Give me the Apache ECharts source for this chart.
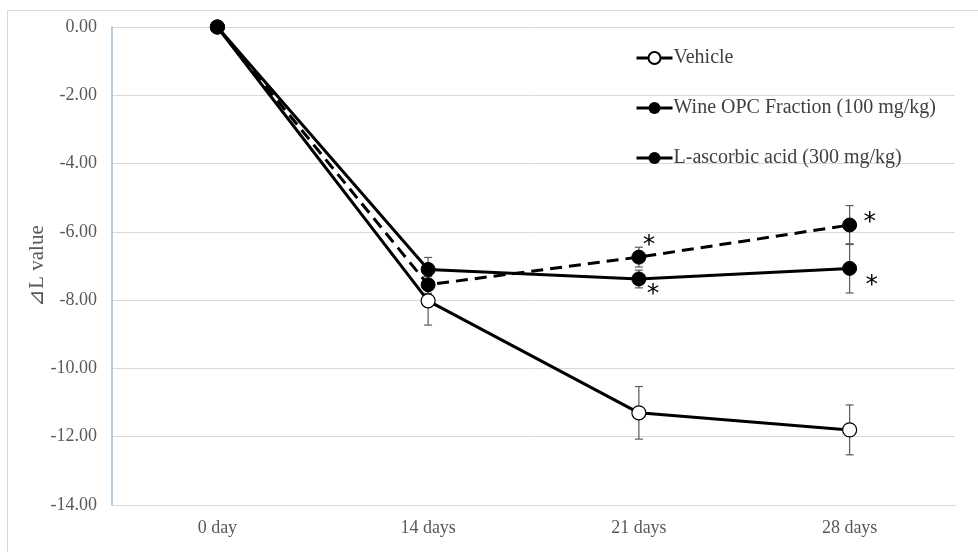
<!DOCTYPE html>
<html>
<head>
<meta charset="utf-8">
<script src="https://cdn.jsdelivr.net/npm/echarts@6/dist/echarts.min.js"></script>
<style>
  html, body { margin: 0; padding: 0; background: #fff; }
  #chart { width: 978px; height: 552px; }
</style>
</head>
<body>
<div id="chart"></div>
<script>
// Time points of the study
const categories = ['0 day', '14 days', '21 days', '28 days'];

// Mean change in L value per group
const vehicle = [0, -8.02, -11.3, -11.8];
const wineOpc = [0, -7.1, -7.38, -7.07];
const ascorbic = [0, -7.55, -6.74, -5.8];

// Error (± half-range) per group
const vehicleErr = [0, 0.71, 0.77, 0.73];
const wineOpcErr = [0, 0.35, 0.26, 0.72];
const ascorbicErr = [0, 0.25, 0.29, 0.57];

// Significance marks
const wineOpcSig = ['', '', '*', '*'];
const ascorbicSig = ['', '', '*', '*'];

// Y axis tick settings
const yMin = -14;
const yMax = 0;
const yStep = 2;

const serifFont = '"Liberation Serif", "Times New Roman", serif';

// Attach asterisk labels to points that carry a significance mark
function withMarks(values, marks, offsets) {
  return values.map((v, i) => {
    if (!marks[i]) return v;
    return {
      value: v,
      label: {
        show: true,
        position: 'inside',
        formatter: marks[i],
        offset: offsets[i],
        fontFamily: '"DejaVu Sans", sans-serif',
        fontSize: 25,
        color: '#000'
      }
    };
  });
}

// Error bar layer for one group
function errorBars(values, errs) {
  return {
    type: 'custom',
    z: 1,
    silent: true,
    data: values.map((v, i) => [i, v, errs[i]]),
    encode: { x: 0, y: 1 },
    renderItem: function (params, api) {
      const idx = api.value(0);
      const m = api.value(1);
      const e = api.value(2);
      if (!e) return null;
      const top = api.coord([idx, m + e]);
      const bot = api.coord([idx, m - e]);
      const cap = 4;
      const style = { stroke: '#595959', lineWidth: 1.2 };
      return {
        type: 'group',
        children: [
          { type: 'line', shape: { x1: top[0], y1: top[1], x2: bot[0], y2: bot[1] }, style: style },
          { type: 'line', shape: { x1: top[0] - cap, y1: top[1], x2: top[0] + cap, y2: top[1] }, style: style },
          { type: 'line', shape: { x1: bot[0] - cap, y1: bot[1], x2: bot[0] + cap, y2: bot[1] }, style: style }
        ]
      };
    }
  };
}

const chart = echarts.init(document.getElementById('chart'), null, { renderer: 'canvas' });

chart.setOption({
  backgroundColor: '#fff',
  animation: false,
  graphic: [{
    type: 'rect',
    silent: true,
    shape: { x: 7.5, y: 10.5, width: 1000, height: 600 },
    style: { fill: 'none', stroke: '#d9d9d9', lineWidth: 1 }
  }],
  grid: { left: 112, right: 23, top: 27, bottom: 47 },
  legend: {
    data: ['Vehicle', 'Wine OPC Fraction (100 mg/kg)', 'L-ascorbic acid (300 mg/kg)'],
    orient: 'vertical',
    left: 630,
    top: 43,
    itemGap: 30,
    itemWidth: 36,
    itemHeight: 15,
    lineStyle: { type: 'solid', width: 3 },
    textStyle: { fontFamily: serifFont, fontSize: 20, color: '#404040', padding: [0, 0, 0, -4] }
  },
  xAxis: {
    type: 'category',
    data: categories,
    boundaryGap: true,
    axisLine: { onZero: false, lineStyle: { color: '#d9d9d9', width: 1 } },
    axisTick: { show: false },
    axisLabel: { fontFamily: serifFont, fontSize: 18, color: '#595959', margin: 14 },
    splitLine: { show: false }
  },
  yAxis: {
    type: 'value',
    min: yMin,
    max: yMax,
    interval: yStep,
    name: '⊿L value',
    nameLocation: 'middle',
    nameGap: 64,
    nameMoveOverlap: false,
    nameTextStyle: { fontFamily: serifFont, fontSize: 21, color: '#595959' },
    axisLine: { show: true, lineStyle: { color: '#9bbcdb', width: 1.5 } },
    axisTick: { show: false },
    axisLabel: {
      fontFamily: serifFont, fontSize: 18, color: '#595959', margin: 15,
      formatter: v => v.toFixed(2)
    },
    splitLine: { lineStyle: { color: '#d9d9d9', width: 1 } }
  },
  series: [
    errorBars(vehicle, vehicleErr),
    errorBars(wineOpc, wineOpcErr),
    errorBars(ascorbic, ascorbicErr),
    {
      name: 'Vehicle',
      type: 'line',
      z: 3,
      data: vehicle,
      symbol: 'circle',
      symbolSize: 14,
      lineStyle: { color: '#000', width: 3 },
      itemStyle: { color: '#fff', borderColor: '#000', borderWidth: 1.2 }
    },
    {
      name: 'Wine OPC Fraction (100 mg/kg)',
      type: 'line',
      z: 3,
      data: withMarks(wineOpc, wineOpcSig, [null, null, [14, 16], [22, 17]]),
      symbol: 'circle',
      symbolSize: 14,
      lineStyle: { color: '#000', width: 3 },
      itemStyle: { color: '#000', borderColor: '#000' }
    },
    {
      name: 'L-ascorbic acid (300 mg/kg)',
      type: 'line',
      z: 3,
      data: withMarks(ascorbic, ascorbicSig, [null, null, [10, -12], [20, -3]]),
      symbol: 'circle',
      symbolSize: 14,
      lineStyle: { color: '#000', width: 3, type: [12, 7] },
      itemStyle: { color: '#000', borderColor: '#000' }
    }
  ]
});
</script>
</body>
</html>
